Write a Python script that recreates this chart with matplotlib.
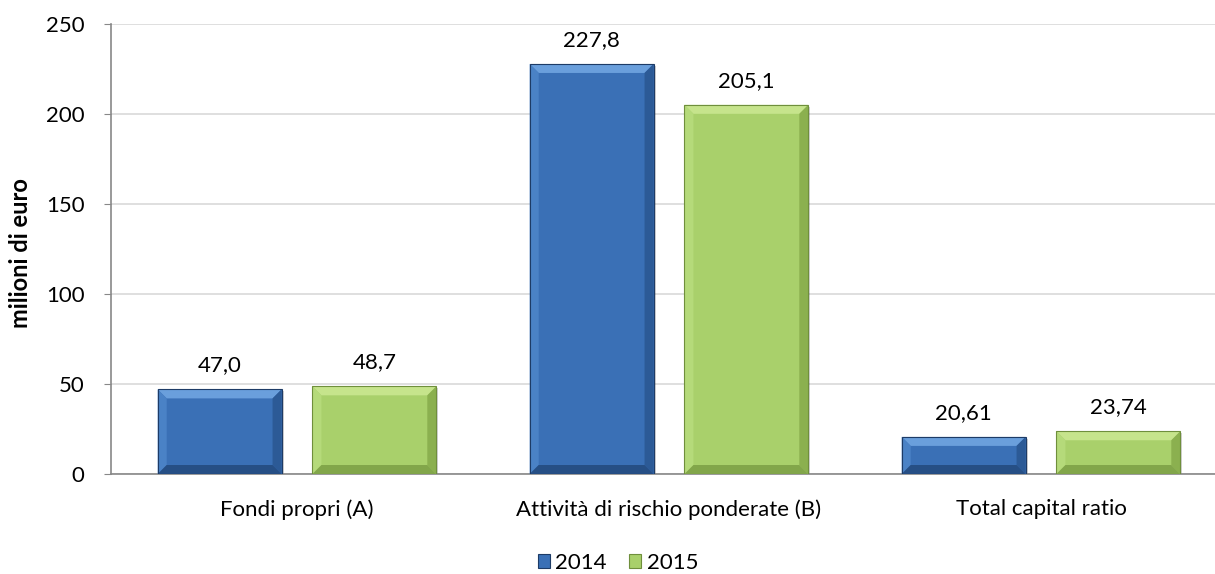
import matplotlib
matplotlib.use("Agg")
import matplotlib.pyplot as plt
from matplotlib.patches import Polygon, Rectangle
import numpy as np

categories = ["Fondi propri (A)", "Attività di rischio ponderate (B)", "Total capital ratio"]
series_names = ["2014", "2015"]
values_2014 = [47.0, 227.8, 20.61]
values_2015 = [48.7, 205.1, 23.74]
labels_2014 = ["47,0", "227,8", "20,61"]
labels_2015 = ["48,7", "205,1", "23,74"]
y_ticks = [0, 50, 100, 150, 200, 250]

palette = {
    "2014": dict(base="#3a70b6", top="#6a9fdc", left="#4a82c6", right="#2c5a96", bottom="#264f85", edge="#1d3b66"),
    "2015": dict(base="#a9d06b", top="#c6e48c", left="#b5da7a", right="#8bb04f", bottom="#82a64a", edge="#6f8f3c"),
}

plt.rcParams["font.family"] = ["Lato", "DejaVu Sans"]
FS = 16

W, H = 1215, 574
fig = plt.figure(figsize=(W / 100, H / 100), dpi=100)
ax_left, ax_right, ax_top, ax_bottom = 111, 1227, 24, 474
ax = fig.add_axes([ax_left / W, 1 - ax_bottom / H, (ax_right - ax_left) / W, (ax_bottom - ax_top) / H])
ax.set_xlim(-0.5, 2.5)
ax.set_ylim(0, 250)

bar_w = 0.333
gap = 0.083
x = np.arange(len(categories))
offsets = [-(bar_w + gap) / 2, (bar_w + gap) / 2]

# pixel -> data scale for bevel size
px_x = 3.0 / (ax_right - ax_left)
px_y = 250.0 / (ax_bottom - ax_top)
bev = 9


def bevel_bar(xc, h, c):
    x0, x1 = xc - bar_w / 2, xc + bar_w / 2
    bx, by = bev * px_x, min(bev * px_y, h / 3)
    # drop shadow
    ax.add_patch(Rectangle((x0 + 2 * px_x, -2 * px_y), bar_w, h, facecolor="#000000", alpha=0.18,
                           edgecolor="none", zorder=2))
    ax.add_patch(Rectangle((x0, 0), bar_w, h, facecolor=c["base"], edgecolor="none", zorder=3))
    ax.add_patch(Polygon([(x0, h), (x1, h), (x1 - bx, h - by), (x0 + bx, h - by)],
                         facecolor=c["top"], edgecolor="none", zorder=4))
    ax.add_patch(Polygon([(x0, 0), (x0, h), (x0 + bx, h - by), (x0 + bx, by)],
                         facecolor=c["left"], edgecolor="none", zorder=4))
    ax.add_patch(Polygon([(x1, 0), (x1, h), (x1 - bx, h - by), (x1 - bx, by)],
                         facecolor=c["right"], edgecolor="none", zorder=4))
    ax.add_patch(Polygon([(x0, 0), (x1, 0), (x1 - bx, by), (x0 + bx, by)],
                         facecolor=c["bottom"], edgecolor="none", zorder=4))
    ax.add_patch(Rectangle((x0, 0), bar_w, h, facecolor="none", edgecolor=c["edge"], linewidth=0.8, zorder=5))


for name, vals, labs, off in [("2014", values_2014, labels_2014, offsets[0]),
                              ("2015", values_2015, labels_2015, offsets[1])]:
    c = palette[name]
    for xi, v, lab in zip(x, vals, labs):
        bevel_bar(xi + off, v, c)
        ax.annotate(lab, (xi + off, v), xytext=(0, 10), textcoords="offset points",
                    ha="center", va="bottom", fontsize=FS, color="#000000")

ax.set_yticks(y_ticks)
ax.set_yticklabels([str(t) for t in y_ticks], fontsize=FS)
ax.yaxis.grid(True, color="#d9d9d9", linewidth=1.2)
ax.set_axisbelow(True)
ax.set_xticks(x)
ax.set_xticklabels(categories, fontsize=FS)
ax.tick_params(axis="x", length=0, pad=18)
ax.tick_params(axis="y", length=5, color="#888888", pad=14, direction="out")
for s in ["top", "right"]:
    ax.spines[s].set_visible(False)
ax.spines["left"].set_color("#888888")
ax.spines["bottom"].set_color("#888888")
ax.spines["left"].set_linewidth(1.2)
ax.spines["bottom"].set_linewidth(1.2)

fig.text(21 / W, 1 - 253 / H, "milioni di euro", rotation=90, ha="center", va="center",
         fontsize=17, fontweight="bold")

# legend
handles = [Rectangle((0, 0), 1, 1, facecolor=palette[n]["base"], edgecolor=palette[n]["edge"], linewidth=0.8)
           for n in series_names]
fig.legend(handles, series_names, loc="center", bbox_to_anchor=(618 / W, 1 - 563 / H), ncol=2,
           frameon=False, fontsize=FS, handlelength=0.55, handleheight=0.55, handletextpad=0.25,
           columnspacing=1.0)

fig.savefig("out.png", dpi=100)
